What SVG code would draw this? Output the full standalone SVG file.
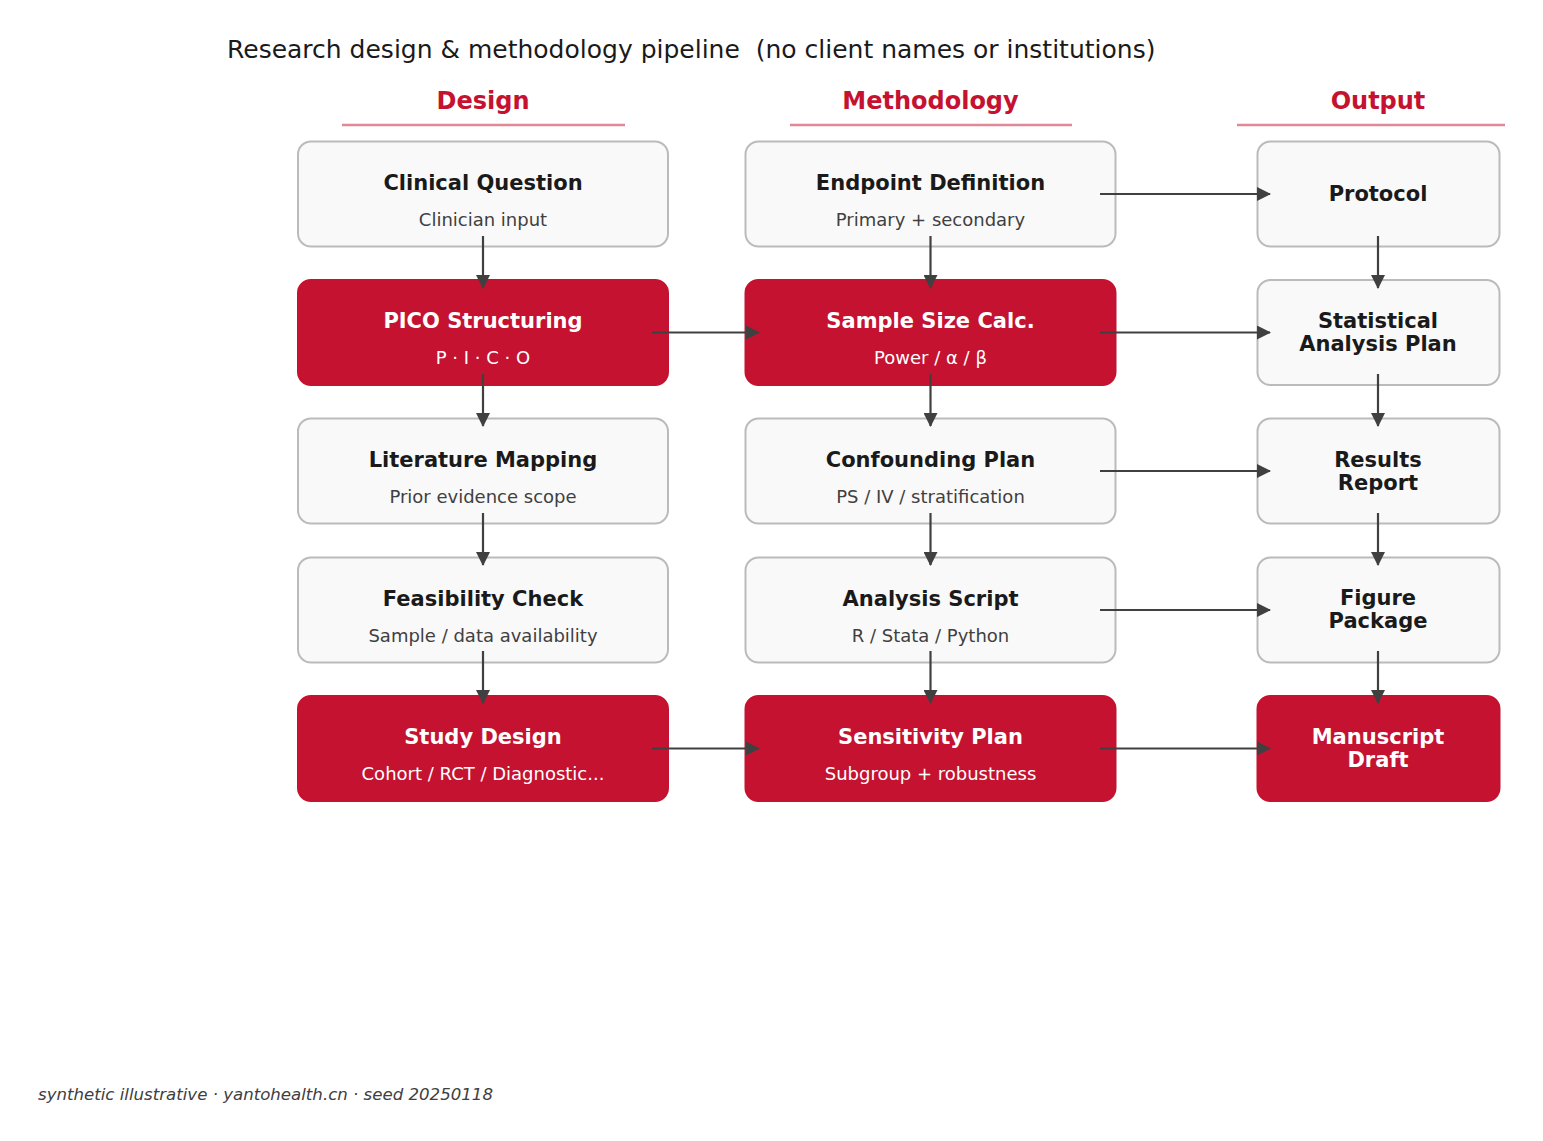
<svg xmlns="http://www.w3.org/2000/svg" width="1543" height="1141" viewBox="0 0 1543 1141">
<style>
text{font-family:"DejaVu Sans","Liberation Sans",sans-serif;}
.title{font-size:25px;fill:#1a1a1a;white-space:pre;}
.hdr{font-size:24px;font-weight:bold;fill:#c41230;text-anchor:middle;}
.hline{stroke:#c41230;stroke-opacity:0.5;stroke-width:2.5;}
.box{fill:#f9f9f9;stroke:#bbbbbb;stroke-width:2;}
.hbox{fill:#c41230;stroke:#c41230;stroke-width:2;}
.t{font-size:21px;font-weight:bold;fill:#1a1a1a;text-anchor:middle;}
.s{font-size:18px;fill:#404040;text-anchor:middle;}
.ht{font-size:21px;font-weight:bold;fill:#ffffff;text-anchor:middle;}
.hs{font-size:18px;fill:#ffffff;text-anchor:middle;}
.c{stroke:#404040;stroke-width:2.2;fill:none;marker-end:url(#ah);}
.foot{font-size:16.6px;font-style:italic;fill:#404040;}
</style>
<defs>
<marker id="ah" viewBox="0 0 14 14" refX="13" refY="7" markerWidth="14" markerHeight="14" markerUnits="userSpaceOnUse" orient="auto">
<path d="M0,0 L14,7 L0,14 z" fill="#404040"/>
</marker>
</defs>
<rect width="1543" height="1141" fill="#ffffff"/>
<text class="title" x="227" y="58" xml:space="preserve">Research design &amp; methodology pipeline  (no client names or institutions)</text>
<g id="headers">
<text class="hdr" x="483" y="109">Design</text>
<line class="hline" x1="342" y1="125" x2="625" y2="125"/>
<text class="hdr" x="930.5" y="109">Methodology</text>
<line class="hline" x1="790" y1="125" x2="1072" y2="125"/>
<text class="hdr" x="1378" y="109">Output</text>
<line class="hline" x1="1237" y1="125" x2="1505" y2="125"/>
</g>
<g id="nodes">
<g id="n-clinical-question"><rect class="box" x="298" y="141.5" width="370" height="105" rx="13"/><text class="t" x="483" y="189.5">Clinical Question</text><text class="s" x="483" y="225.5">Clinician input</text></g>
<g id="n-pico"><rect class="hbox" x="298" y="280" width="370" height="105" rx="13"/><text class="ht" x="483" y="328">PICO Structuring</text><text class="hs" x="483" y="364">P · I · C · O</text></g>
<g id="n-literature"><rect class="box" x="298" y="418.5" width="370" height="105" rx="13"/><text class="t" x="483" y="466.5">Literature Mapping</text><text class="s" x="483" y="502.5">Prior evidence scope</text></g>
<g id="n-feasibility"><rect class="box" x="298" y="557.5" width="370" height="105" rx="13"/><text class="t" x="483" y="605.5">Feasibility Check</text><text class="s" x="483" y="641.5">Sample / data availability</text></g>
<g id="n-study-design"><rect class="hbox" x="298" y="696" width="370" height="105" rx="13"/><text class="ht" x="483" y="744">Study Design</text><text class="hs" x="483" y="780">Cohort / RCT / Diagnostic...</text></g>

<g id="n-endpoint"><rect class="box" x="745.5" y="141.5" width="370" height="105" rx="13"/><text class="t" x="930.5" y="189.5">Endpoint Definition</text><text class="s" x="930.5" y="225.5">Primary + secondary</text></g>
<g id="n-sample-size"><rect class="hbox" x="745.5" y="280" width="370" height="105" rx="13"/><text class="ht" x="930.5" y="328">Sample Size Calc.</text><text class="hs" x="930.5" y="364">Power / α / β</text></g>
<g id="n-confounding"><rect class="box" x="745.5" y="418.5" width="370" height="105" rx="13"/><text class="t" x="930.5" y="466.5">Confounding Plan</text><text class="s" x="930.5" y="502.5">PS / IV / stratification</text></g>
<g id="n-analysis-script"><rect class="box" x="745.5" y="557.5" width="370" height="105" rx="13"/><text class="t" x="930.5" y="605.5">Analysis Script</text><text class="s" x="930.5" y="641.5">R / Stata / Python</text></g>
<g id="n-sensitivity"><rect class="hbox" x="745.5" y="696" width="370" height="105" rx="13"/><text class="ht" x="930.5" y="744">Sensitivity Plan</text><text class="hs" x="930.5" y="780">Subgroup + robustness</text></g>

<g id="n-protocol"><rect class="box" x="1257.5" y="141.5" width="242" height="105" rx="13"/><text class="t" x="1378" y="201">Protocol</text></g>
<g id="n-sap"><rect class="box" x="1257.5" y="280" width="242" height="105" rx="13"/><text class="t" x="1378" y="328">Statistical</text><text class="t" x="1378" y="351">Analysis Plan</text></g>
<g id="n-results"><rect class="box" x="1257.5" y="418.5" width="242" height="105" rx="13"/><text class="t" x="1378" y="466.5">Results</text><text class="t" x="1378" y="489.5">Report</text></g>
<g id="n-figure"><rect class="box" x="1257.5" y="557.5" width="242" height="105" rx="13"/><text class="t" x="1378" y="605">Figure</text><text class="t" x="1378" y="628">Package</text></g>
<g id="n-manuscript"><rect class="hbox" x="1257.5" y="696" width="242" height="105" rx="13"/><text class="ht" x="1378" y="744">Manuscript</text><text class="ht" x="1378" y="767">Draft</text></g>
</g>
<g id="connectors">
<line class="c" x1="483" y1="236" x2="483" y2="288"/>
<line class="c" x1="483" y1="374" x2="483" y2="426"/>
<line class="c" x1="483" y1="513" x2="483" y2="565"/>
<line class="c" x1="483" y1="651" x2="483" y2="703"/>
<line class="c" x1="930.5" y1="236" x2="930.5" y2="288"/>
<line class="c" x1="930.5" y1="374" x2="930.5" y2="426"/>
<line class="c" x1="930.5" y1="513" x2="930.5" y2="565"/>
<line class="c" x1="930.5" y1="651" x2="930.5" y2="703"/>
<line class="c" x1="1378" y1="236" x2="1378" y2="288"/>
<line class="c" x1="1378" y1="374" x2="1378" y2="426"/>
<line class="c" x1="1378" y1="513" x2="1378" y2="565"/>
<line class="c" x1="1378" y1="651" x2="1378" y2="703"/>
<line class="c" x1="652" y1="332.5" x2="759" y2="332.5"/>
<line class="c" x1="652" y1="748.5" x2="759" y2="748.5"/>
<line class="c" x1="1100" y1="194" x2="1270" y2="194"/>
<line class="c" x1="1100" y1="332.5" x2="1270" y2="332.5"/>
<line class="c" x1="1100" y1="471" x2="1270" y2="471"/>
<line class="c" x1="1100" y1="610" x2="1270" y2="610"/>
<line class="c" x1="1100" y1="748.5" x2="1270" y2="748.5"/>
</g>
<text class="foot" x="38" y="1100">synthetic illustrative · yantohealth.cn · seed 20250118</text>
</svg>
